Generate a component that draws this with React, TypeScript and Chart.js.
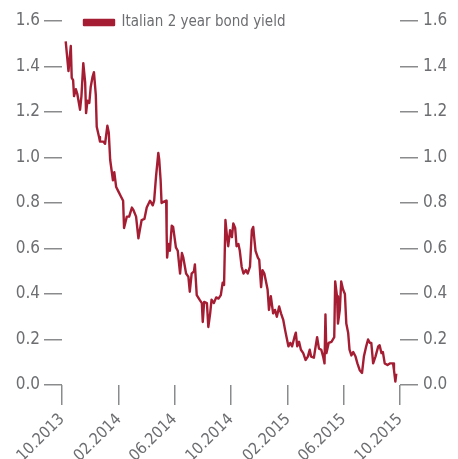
import React, { useEffect, useRef } from "react";
import Chart from "chart.js/auto";

// Days since 01.10.2013
const dayOffsets: number[] = [
  8, 14, 19, 21, 24, 26, 30, 33, 39, 42, 46, 50, 52, 55, 59, 62, 66, 69, 73, 75,
  80, 82, 89, 93, 98, 101, 104, 110, 113, 117, 122, 127, 132, 134, 140, 145, 151, 154, 160, 165,
  168, 172, 178, 183, 190, 196, 199, 203, 208, 210, 213, 215, 219, 225, 226, 227, 230, 233, 237, 240,
  246, 250, 255, 259, 262, 268, 273, 276, 280, 285, 287, 291, 297, 302, 304, 307, 313, 316, 320, 323,
  328, 333, 338, 343, 347, 350, 353, 356, 359, 363, 367, 370, 374, 377, 381, 384, 388, 392, 397, 401,
  406, 410, 413, 415, 418, 423, 426, 430, 433, 437, 440, 444, 447, 451, 456, 460, 464, 469, 473, 478,
  482, 485, 489, 493, 497, 502, 505, 508, 512, 516, 521, 526, 531, 535, 538, 544, 547, 551, 555, 560,
  564, 567, 569, 571, 576, 582, 588, 590, 594, 596, 600, 603, 607, 611, 614, 618, 621, 625, 629, 634,
  638, 643, 648, 652, 657, 661, 665, 668, 672, 677, 683, 686, 690, 693, 697, 703, 708, 715, 717, 720,
  722,
];

const yieldValues: number[] = [
  1.51, 1.38, 1.49, 1.35, 1.34, 1.27, 1.3, 1.28, 1.21, 1.27, 1.415, 1.33, 1.195, 1.25, 1.24, 1.31, 1.355, 1.375, 1.275, 1.135,
  1.09, 1.07, 1.07, 1.06, 1.14, 1.11, 0.99, 0.9, 0.935, 0.87, 0.85, 0.83, 0.81, 0.69, 0.74, 0.74, 0.78, 0.77, 0.74, 0.645,
  0.68, 0.725, 0.73, 0.78, 0.81, 0.79, 0.81, 0.915, 1.02, 0.99, 0.9, 0.8, 0.805, 0.81, 0.67, 0.56, 0.62, 0.59, 0.7, 0.695,
  0.605, 0.59, 0.49, 0.58, 0.56, 0.49, 0.475, 0.41, 0.49, 0.5, 0.53, 0.395, 0.375, 0.36, 0.277, 0.365, 0.36, 0.255, 0.315, 0.375,
  0.36, 0.385, 0.38, 0.395, 0.45, 0.44, 0.725, 0.66, 0.61, 0.68, 0.65, 0.71, 0.69, 0.61, 0.62, 0.59, 0.52, 0.49, 0.505, 0.49,
  0.52, 0.68, 0.695, 0.65, 0.59, 0.56, 0.55, 0.43, 0.505, 0.49, 0.46, 0.42, 0.33, 0.39, 0.315, 0.33, 0.3, 0.345, 0.315, 0.285,
  0.24, 0.21, 0.17, 0.185, 0.17, 0.21, 0.23, 0.17, 0.19, 0.155, 0.14, 0.11, 0.125, 0.155, 0.125, 0.12, 0.16, 0.21, 0.16, 0.155,
  0.125, 0.095, 0.31, 0.14, 0.185, 0.19, 0.21, 0.455, 0.39, 0.27, 0.33, 0.455, 0.42, 0.4, 0.27, 0.23, 0.155, 0.13, 0.145, 0.125,
  0.095, 0.065, 0.053, 0.125, 0.17, 0.2, 0.185, 0.185, 0.095, 0.125, 0.17, 0.175, 0.14, 0.145, 0.095, 0.088, 0.095, 0.095, 0.065, 0.015,
  0.05,
];

const tickDays: number[] = [0, 123, 243, 365, 488, 608, 730];
const tickLabels: string[] = ["10.2013", "02.2014", "06.2014", "10.2014", "02.2015", "06.2015", "10.2015"];
const seriesLabel = "Italian 2 year bond yield";

const FONT = "'Liberation Sans Narrow', 'DejaVu Sans Condensed', 'Arial Narrow', sans-serif";
const TEXT = "#6d6e71";
const AXIS = "#8a8b8d";
const RED = "#a51d33";

const legendShift = {
  id: "legendShift",
  afterLayout(chart: any) {
    const l = chart.legend;
    if (!l) return;
    const dx = 12;
    const dy = 5;
    l.left += dx;
    l.right += dx;
    l.top += dy;
    l.bottom += dy;
  },
};

export default function App() {
  const ref = useRef<HTMLCanvasElement | null>(null);
  useEffect(() => {
    if (!ref.current) return;
    const yCommon = {
      type: "linear" as const,
      min: 0,
      max: 1.6,
      ticks: {
        stepSize: 0.2,
        color: TEXT,
        font: { family: FONT, size: 17 },
        padding: 4,
        callback: (v: any) => Number(v).toFixed(1),
      },
      grid: { drawOnChartArea: false, drawTicks: true, tickLength: 18, color: AXIS, lineWidth: 1.5 },
      border: { display: false },
    };
    const chart = new Chart(ref.current, {
      type: "line",
      data: {
        datasets: [
          {
            label: seriesLabel,
            data: dayOffsets.map((d, i) => ({ x: d, y: yieldValues[i] })),
            borderColor: RED,
            backgroundColor: RED,
            borderWidth: 2.4,
            pointRadius: 0,
            tension: 0,
            borderJoinStyle: "round",
          },
        ],
      },
      options: {
        animation: false,
        responsive: false,
        layout: { padding: { top: 21, left: 0, right: 0, bottom: 0 } },
        plugins: {
          legend: {
            position: "chartArea",
            align: "start",
            labels: {
              boxWidth: 30,
              boxHeight: 5,
              color: TEXT,
              font: { family: FONT, size: 15 },
              padding: 10,
            },
          },
          tooltip: { enabled: false },
        },
        scales: {
          x: {
            type: "linear",
            min: 0,
            max: 730,
            afterBuildTicks: (s: any) => {
              s.ticks = tickDays.map((v) => ({ value: v }));
            },
            afterFit: (s: any) => {
              s.height = 74;
            },
            ticks: {
              autoSkip: false,
              maxRotation: 45,
              minRotation: 45,
              color: TEXT,
              font: { family: FONT, size: 16 },
              padding: 5,
              callback: (v: any) => tickLabels[tickDays.indexOf(Number(v))] ?? "",
            },
            grid: { drawOnChartArea: false, drawTicks: true, tickLength: 20, color: AXIS, lineWidth: 1.5 },
            border: { display: false },
          },
          y: {
            ...yCommon,
            position: "left",
            afterFit: (s: any) => {
              s.width = 62;
            },
          },
          y2: {
            ...yCommon,
            position: "right",
            ticks: { ...yCommon.ticks, padding: 5 },
            afterFit: (s: any) => {
              s.width = 58;
            },
          },
        },
      } as any,
      plugins: [legendShift],
    });
    return () => chart.destroy();
  }, []);
  return (
    <div style={{ position: "absolute", left: 0, top: 0, width: 458, height: 459, background: "#fff" }}>
      <canvas ref={ref} width={458} height={459} style={{ width: 458, height: 459 }} />
    </div>
  );
}
